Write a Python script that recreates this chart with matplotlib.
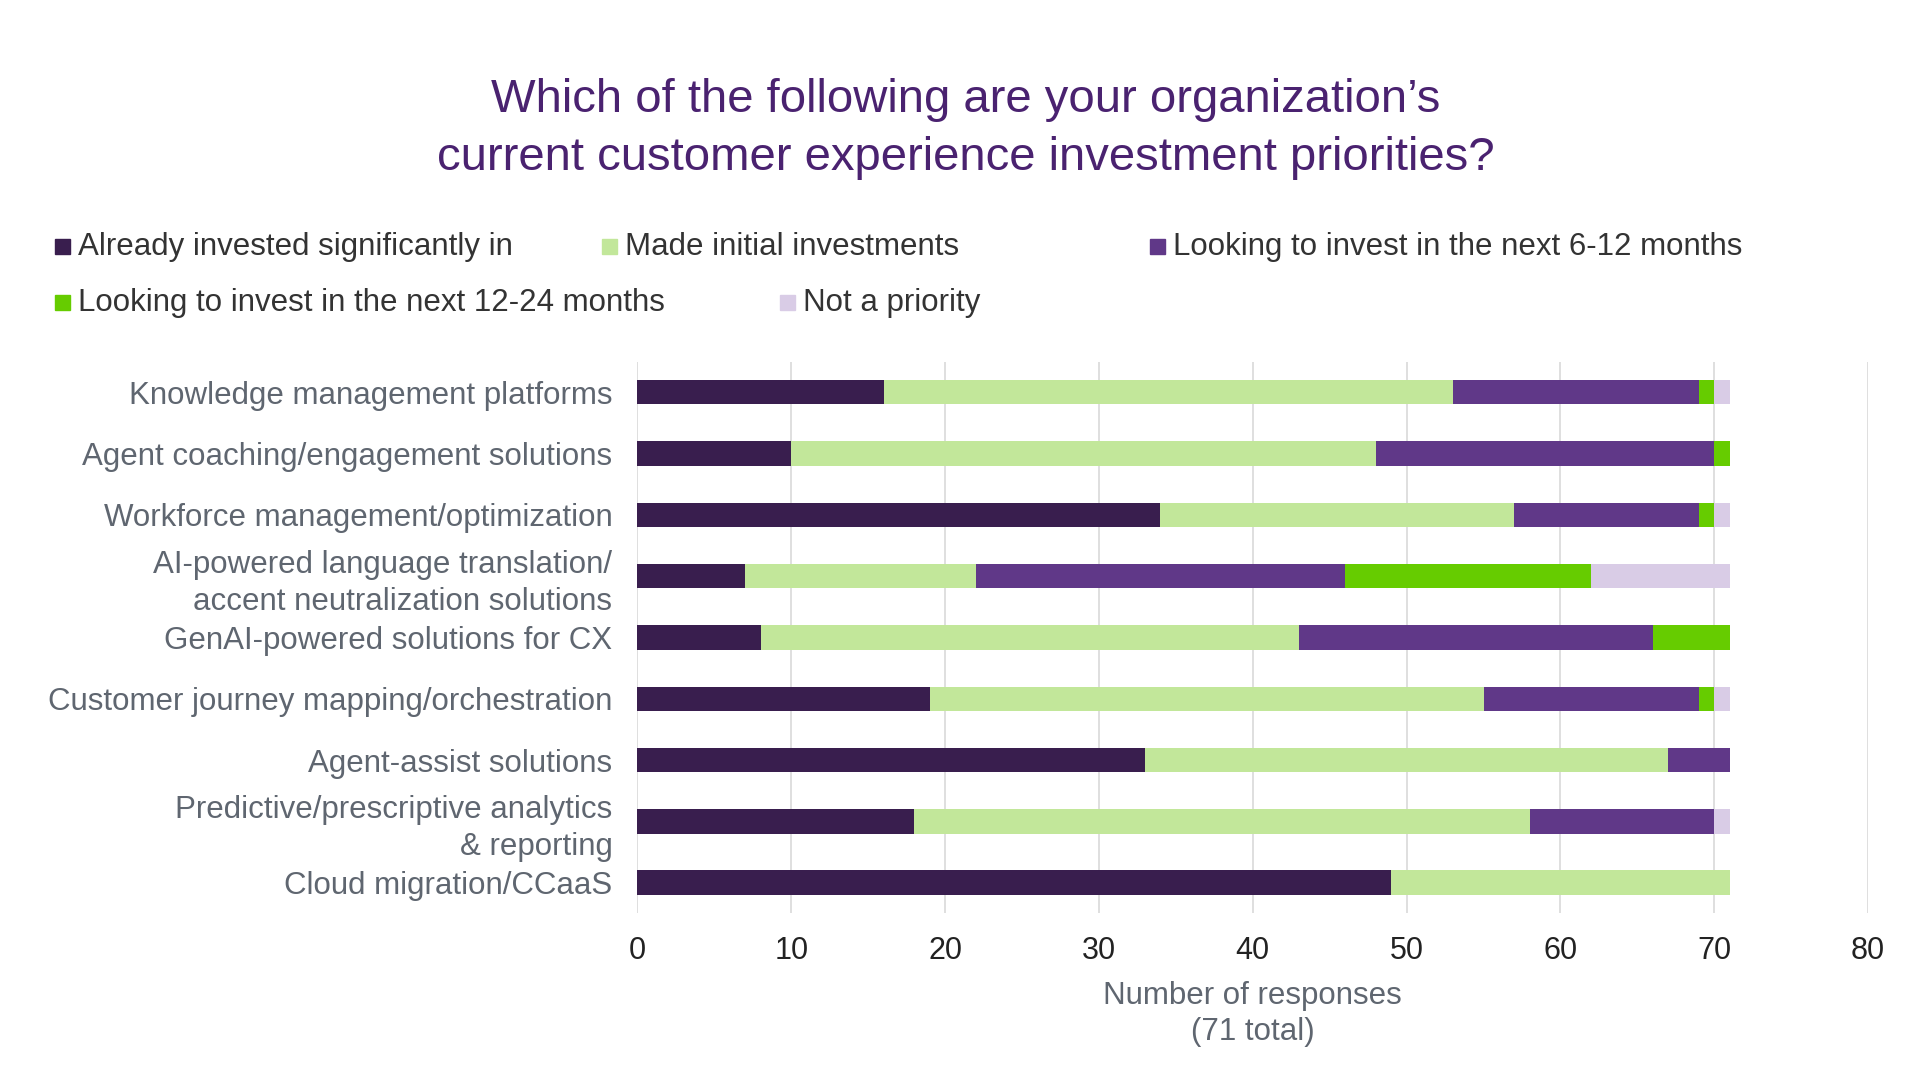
import numpy as np
import matplotlib.pyplot as plt
from matplotlib.patches import Rectangle

plt.rcParams['font.family'] = ['Liberation Sans', 'DejaVu Sans']

#Categories, top to bottom
categories = ['Knowledge management platforms',
              'Agent coaching/engagement solutions',
              'Workforce management/optimization',
              'AI-powered language translation/\naccent neutralization solutions',
              'GenAI-powered solutions for CX',
              'Customer journey mapping/orchestration',
              'Agent-assist solutions',
              'Predictive/prescriptive analytics\n& reporting',
              'Cloud migration/CCaaS']

series_names = ['Already invested significantly in',
                'Made initial investments',
                'Looking to invest in the next 6-12 months',
                'Looking to invest in the next 12-24 months',
                'Not a priority']

already = [16, 10, 34, 7, 8, 19, 33, 18, 49]
initial = [37, 38, 23, 15, 35, 36, 34, 40, 22]
next_6_12 = [16, 22, 12, 24, 23, 14, 4, 12, 0]
next_12_24 = [1, 1, 1, 16, 5, 1, 0, 0, 0]
not_priority = [1, 0, 1, 9, 0, 1, 0, 1, 0]

colors = ['#391E4E', '#C2E79A', '#603888', '#66CC00', '#D9CCE6']

xticks = [0, 10, 20, 30, 40, 50, 60, 70, 80]

fig = plt.figure(figsize=(19.2, 10.8), dpi=100)
ax = fig.add_axes([0.332, 0.1543, 0.641, 0.5109])

#Stack the bars
y = np.arange(len(categories))
left = np.zeros(len(categories))
for vals, col in zip([already, initial, next_6_12, next_12_24, not_priority], colors):
    ax.barh(y, vals, left=left, height=0.4, color=col, linewidth=0, zorder=3)
    left += np.array(vals)

ax.set_ylim(8.5, -0.5)
ax.set_xlim(0, 80)
ax.set_xticks(xticks)
ax.set_xticklabels([str(t) for t in xticks], fontsize=22, color='#222222')
ax.set_yticks(y)
ax.set_yticklabels(categories, fontsize=22.5, color='#5F6670', linespacing=1.32)
ax.tick_params(axis='both', length=0)
ax.tick_params(axis='x', pad=16)
ax.tick_params(axis='y', pad=18)
ax.grid(axis='x', color='#D9D9D9', linewidth=1.2, zorder=0)
for s in ax.spines.values():
    s.set_visible(False)

ax.set_xlabel('Number of responses\n(71 total)', fontsize=22.5, color='#5F6670',
              labelpad=11, linespacing=1.28)

#Title
fig.text(0.503, 0.8805, "Which of the following are your organization\u2019s\ncurrent customer experience investment priorities?",
         ha='center', va='center', fontsize=34, color='#4A2270', linespacing=1.4)

#Legend placed by hand, two rows
leg_x = [55, 602, 1150, 55, 780]
leg_y = [247, 247, 247, 303, 303]
for name, col, lx, ly in zip(series_names, colors, leg_x, leg_y):
    fig.patches.append(Rectangle((lx / 1920, 1 - (ly + 7) / 1080), 15 / 1920, 15 / 1080,
                                 transform=fig.transFigure, color=col, figure=fig))
    fig.text((lx + 23) / 1920, 1 - ly / 1080, name, ha='left', va='center',
             fontsize=22.5, color='#333333')

fig.savefig('out.png', dpi=100, facecolor='white')
